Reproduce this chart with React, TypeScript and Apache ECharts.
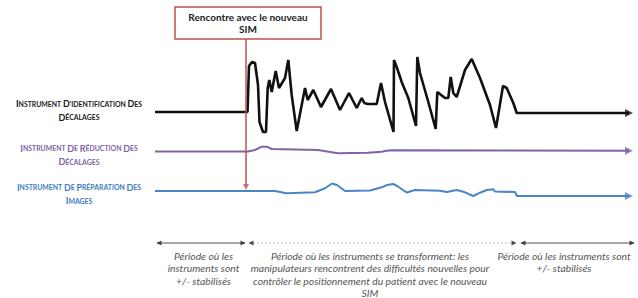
import React, { useEffect, useRef } from "react";
import * as echarts from "echarts";

// In picture units (x: left→right, y: top→bottom)
const identificationLine: [number, number][] = [
  [155, 112], [247.5, 112], [249, 66], [252, 62], [255, 63], [258, 85], [259.5, 122], [263, 132], [266, 132],
  [267.7, 88], [269.3, 80], [271.7, 92], [275.7, 71], [279, 88], [285, 78], [288.3, 60], [291.7, 95],
  [296.7, 131], [305, 88], [307.7, 100], [313.3, 90], [321, 107], [331, 89], [340, 110], [349, 93],
  [356.7, 108], [361.7, 98], [364.3, 103], [367.7, 104], [376.7, 104], [381, 83], [385, 102], [393.5, 132],
  [394, 60], [396.7, 67], [401.7, 82], [408.3, 98], [416, 126], [417.3, 57], [420, 73], [428.3, 102],
  [435.7, 129], [437.3, 92], [445, 98], [448.3, 98], [450.7, 77], [453.3, 93], [456.7, 97], [465, 70],
  [471.7, 59], [480, 78], [490, 105], [496, 128], [503, 86], [506.7, 88], [513.3, 103], [516.7, 113], [629, 113],
];
const reductionLine: [number, number][] = [
  [155, 151.5], [248, 151.5], [255, 150], [261.7, 146.7], [266.7, 146.7], [271.7, 149], [318, 150],
  [338, 153.3], [368, 152.7], [381.7, 151.7], [386.7, 150.7], [391.7, 150.3], [629, 150.7],
];
const preparationLine: [number, number][] = [
  [155, 191], [275, 191], [286.7, 193.3], [315, 192.3], [325, 188.3], [332, 183.5], [337, 185], [345, 191],
  [370, 190.5], [381.7, 187.3], [387, 185], [393.3, 184], [398.3, 186.7], [406.7, 192.5], [415, 190],
  [440, 190.7], [446.7, 192], [456.7, 190], [463.3, 191.7], [473.3, 196], [480, 192.7], [486.7, 190],
  [493.3, 189.3], [495, 191.5], [515, 192], [517, 196], [629, 196],
];
const eventX = 246;
const eventSpan = [39, 185];
const periodY = 243;
const periodBounds = [[157, 245], [249, 516], [521, 634]];

const periodTexts = [
  ["Période où les", "instruments sont", "+/- stabilisés"],
  [
    "Période où les instruments se transforment: les",
    "manipulateurs rencontrent des difficultés nouvelles pour",
    "contrôler le positionnement du patient avec le nouveau",
    "SIM",
  ],
  ["Période où les instruments sont", "+/- stabilisés"],
];
const rowLabels = [
  { l1: "INSTRUMENT D'IDENTIFICATION DES", l2: "DÉCALAGES", color: "#1a1a1a" },
  { l1: "INSTRUMENT DE RÉDUCTION DES", l2: "DÉCALAGES", color: "#8064a2" },
  { l1: "INSTRUMENT DE PRÉPARATION DES", l2: "IMAGES", color: "#3d7cc4" },
];
const eventTitle = ["Rencontre avec le nouveau", "SIM"];

const FONT = "Lato, 'Open Sans', sans-serif";

function smallCaps(s: string): string {
  return s
    .split(" ")
    .map((w) => `{b|${w.charAt(0)}}{s|${w.slice(1)}}`)
    .join("{s| }");
}

export default function App() {
  const ref = useRef<HTMLDivElement>(null);
  useEffect(() => {
    document.body.style.margin = "0";
    const chart = echarts.init(ref.current!, null, { renderer: "svg" });
    const lineColors = ["#111111", "#8064a2", "#4a85c8"];
    const lines = [identificationLine, reductionLine, preparationLine];

    const labelY = [110.5, 155, 194];
    const graphics: any[] = [];
    rowLabels.forEach((r, i) => {
      graphics.push({
        type: "text",
        x: 79,
        y: labelY[i],
        style: {
          text: smallCaps(r.l1) + "\n" + smallCaps(r.l2),
          align: "center",
          verticalAlign: "middle",
          lineHeight: 13.4,
          fill: r.color,
          rich: {
            b: { fontSize: 9, fontWeight: "bold", fontFamily: FONT, fill: r.color, lineHeight: 13.4 },
            s: { fontSize: 6.9, fontWeight: "bold", fontFamily: FONT, fill: r.color, lineHeight: 13.4 },
          },
        },
      });
    });
    graphics.push({
      type: "rect",
      shape: { x: 175, y: 7, width: 146, height: 32 },
      style: { fill: "#fff", stroke: "#c0504d", lineWidth: 1.5 },
    });
    graphics.push({
      type: "text",
      x: 248,
      y: 23,
      style: {
        text: eventTitle.join("\n"),
        align: "center",
        verticalAlign: "middle",
        fontSize: 10,
        fontWeight: "bold",
        lineHeight: 12,
        fontFamily: FONT,
        fill: "#222",
      },
    });
    const textCenters = [203.5, 370, 564];
    periodTexts.forEach((t, i) => {
      graphics.push({
        type: "text",
        x: textCenters[i],
        y: 249.5,
        style: {
          text: t.join("\n"),
          align: "center",
          verticalAlign: "top",
          fontSize: 10.3,
          fontStyle: "italic",
          lineHeight: 12.4,
          fontFamily: FONT,
          fill: "#555",
        },
      });
    });

    const series: any[] = lines.map((d, i) => ({
      type: "line",
      data: d,
      symbol: "none",
      lineStyle: { color: lineColors[i], width: i === 0 ? 2.6 : 2 },
      z: 3,
    }));
    series.push({
      type: "scatter",
      data: lines.map((d, i) => ({ value: d[d.length - 1], itemStyle: { color: lineColors[i] } })),
      symbol: "triangle",
      symbolSize: [8, 8],
      symbolRotate: -90,
      z: 4,
    });
    series.push({
      type: "line",
      data: [[eventX, eventSpan[0]], [eventX, eventSpan[1]]],
      symbol: "none",
      lineStyle: { color: "#c0504d", width: 1.5 },
      z: 5,
    });
    series.push({
      type: "scatter",
      data: [[eventX, eventSpan[1] + 2]],
      symbol: "triangle",
      symbolSize: [6, 6],
      symbolRotate: 180,
      itemStyle: { color: "#c0504d" },
      z: 5,
    });
    periodBounds.forEach((b, i) => {
      series.push({
        type: "line",
        data: [[b[0], periodY], [b[1], periodY]],
        symbol: "none",
        lineStyle: { color: i === 1 ? "#bbbbbb" : "#555", width: 1.2, type: i === 1 ? [2, 2] : "solid" },
      });
    });
    series.push({
      type: "scatter",
      data: periodBounds.flatMap((b) => [
        { value: [b[0] + 2, periodY], symbolRotate: 90 },
        { value: [b[1] - 2, periodY], symbolRotate: -90 },
      ]),
      symbol: "triangle",
      symbolSize: [5, 5],
      itemStyle: { color: "#222" },
      z: 5,
    });

    chart.setOption({
      animation: false,
      grid: { left: 0, right: 0, top: 0, bottom: 0 },
      xAxis: { type: "value", min: 0, max: 638, show: false },
      yAxis: { type: "value", min: 0, max: 298, inverse: true, show: false },
      series,
      graphic: graphics,
    });
    return () => chart.dispose();
  }, []);
  return <div ref={ref} style={{ width: 638, height: 298 }} />;
}
